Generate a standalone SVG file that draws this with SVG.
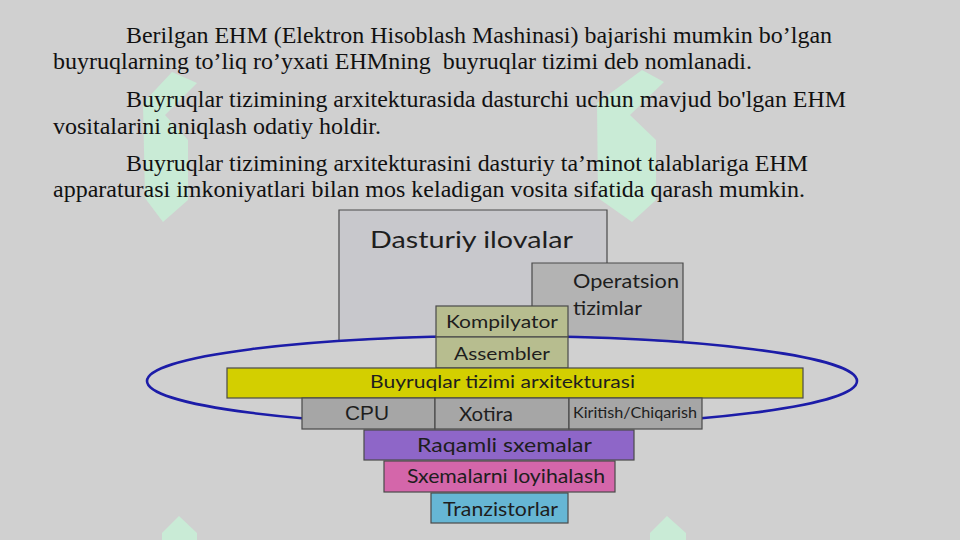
<svg xmlns="http://www.w3.org/2000/svg" width="960" height="540" viewBox="0 0 960 540">
<style>
.para{font-family:"Liberation Serif","Times New Roman",serif;font-size:23.5px;fill:#111;white-space:pre}
.lbl{font-family:Lato,"Open Sans",sans-serif;fill:#1e1e1e}
.box{stroke:#4a4a4a;stroke-width:1.2}
.wm{fill:#c9ebd6}
</style>
<rect x="0" y="0" width="960" height="540" fill="#d0d0d0"/>
<g id="watermark">
<path class="wm" d="M172,72 L197,83 L165,115 L188,140 L188,200 L163,222 L145,198 L143,103 Z"/>
<path class="wm" d="M642,70 L664,82 L630,115 L656,140 L656,200 L632,222 L598,198 L597,103 Z"/>
<path class="wm" d="M179,516 L197,533 L197,540 L162,540 L162,533 Z"/>
<path class="wm" d="M667,516 L686,533 L686,540 L650,540 L650,533 Z"/>
</g>
<g id="text">
<text class="para" x="126" y="43" textLength="706" lengthAdjust="spacingAndGlyphs">Berilgan EHM (Elektron Hisoblash Mashinasi) bajarishi mumkin bo’lgan</text>
<text class="para" x="53" y="69" textLength="699" lengthAdjust="spacingAndGlyphs">buyruqlarning to’liq ro’yxati EHMning  buyruqlar tizimi deb nomlanadi.</text>
<text class="para" x="126" y="107" textLength="720" lengthAdjust="spacingAndGlyphs">Buyruqlar tizimining arxitekturasida dasturchi uchun mavjud bo'lgan EHM</text>
<text class="para" x="53" y="134" textLength="328" lengthAdjust="spacingAndGlyphs">vositalarini aniqlash odatiy holdir.</text>
<text class="para" x="126" y="171" textLength="682" lengthAdjust="spacingAndGlyphs">Buyruqlar tizimining arxitekturasini dasturiy ta’minot talablariga EHM</text>
<text class="para" x="53" y="197" textLength="752" lengthAdjust="spacingAndGlyphs">apparaturasi imkoniyatlari bilan mos keladigan vosita sifatida qarash mumkin.</text>
</g>
<g id="dasturiy">
<path class="box" fill="#c8c8cc" d="M339,341 V210 H607 V338 A355,45 0 0 0 339,341 Z"/>
<text class="lbl" x="370" y="248" font-size="24" textLength="203" lengthAdjust="spacingAndGlyphs">Dasturiy ilovalar</text>
</g>
<g id="operatsion">
<path class="box" fill="#b3b3b3" d="M532,336 V263 H683 V342.3 A355,45 0 0 0 532,336 Z"/>
<text class="lbl" x="573" y="288" font-size="20" textLength="106" lengthAdjust="spacingAndGlyphs">Operatsion</text>
<text class="lbl" x="573" y="315" font-size="20" textLength="69" lengthAdjust="spacingAndGlyphs">tizimlar</text>
</g>
<g id="connectors">
<ellipse cx="502" cy="381" rx="355" ry="45" fill="none" stroke="#1c1ca8" stroke-width="2.6"/>
</g>
<g id="kompilyator">
<rect class="box" x="436" y="306" width="132" height="31" fill="#b7bd8f"/>
<text class="lbl" x="446" y="328" font-size="17" textLength="112" lengthAdjust="spacingAndGlyphs">Kompilyator</text>
</g>
<g id="assembler">
<rect class="box" x="436" y="337" width="132" height="31" fill="#b7bd8f"/>
<text class="lbl" x="454" y="360" font-size="17" textLength="96" lengthAdjust="spacingAndGlyphs">Assembler</text>
</g>
<g id="arxitektura">
<rect class="box" x="227" y="368" width="576" height="30" fill="#d3cf00"/>
<text class="lbl" x="370" y="388" font-size="18" textLength="265" lengthAdjust="spacingAndGlyphs">Buyruqlar tizimi arxitekturasi</text>
</g>
<g id="cpu">
<rect class="box" x="302" y="398" width="133" height="31" fill="#a6a6a6"/>
<text x="345" y="420" font-family="Liberation Sans, Arial, sans-serif" font-size="20" fill="#1e1e1e" textLength="44" lengthAdjust="spacingAndGlyphs">CPU</text>
</g>
<g id="xotira">
<rect class="box" x="435" y="398" width="134" height="31" fill="#a6a6a6"/>
<text class="lbl" x="459" y="421" font-size="19" textLength="54" lengthAdjust="spacingAndGlyphs">Xotira</text>
</g>
<g id="kiritish">
<rect class="box" x="569" y="398" width="133" height="31" fill="#a6a6a6"/>
<text class="lbl" x="573" y="418" font-size="15" textLength="124" lengthAdjust="spacingAndGlyphs">Kiritish/Chiqarish</text>
</g>
<g id="raqamli">
<rect class="box" x="364" y="430" width="270" height="30" fill="#8e66c8"/>
<text class="lbl" x="417" y="452" font-size="19" textLength="175" lengthAdjust="spacingAndGlyphs">Raqamli sxemalar</text>
</g>
<g id="sxemalarni">
<rect class="box" x="384" y="461" width="231" height="31" fill="#d466aa"/>
<text class="lbl" x="407" y="483" font-size="19" textLength="198" lengthAdjust="spacingAndGlyphs">Sxemalarni loyihalash</text>
</g>
<g id="tranzistorlar">
<rect class="box" x="431" y="493" width="137" height="30" fill="#66b6d4"/>
<text class="lbl" x="443" y="516" font-size="19" textLength="115" lengthAdjust="spacingAndGlyphs">Tranzistorlar</text>
</g>
</svg>
